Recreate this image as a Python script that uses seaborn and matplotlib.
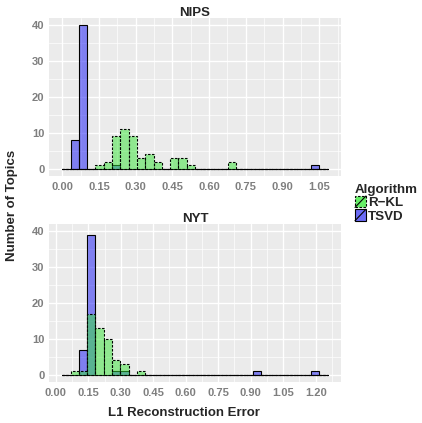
import numpy as np
import pandas as pd
import seaborn as sns
import matplotlib
matplotlib.use("Agg")
import matplotlib.pyplot as plt
from matplotlib.ticker import AutoMinorLocator, FormatStrFormatter
from matplotlib.patches import Rectangle, Patch
from matplotlib.lines import Line2D
from matplotlib.legend_handler import HandlerPatch

# Histogram values (bin centre, count)
nips_tsvd_err = [0.051, 0.085, 0.220, 1.034]
nips_tsvd_n = [8, 40, 1, 1]
nips_rkl_err = [0.153, 0.186, 0.220, 0.254, 0.288, 0.322, 0.356, 0.390, 0.458, 0.492, 0.525, 0.695]
nips_rkl_n = [1, 2, 9, 11, 9, 3, 4, 2, 3, 3, 1, 2]

nyt_tsvd_err = [0.126, 0.164, 0.279, 0.317, 0.930, 1.198]
nyt_tsvd_n = [7, 39, 1, 1, 1, 1]
nyt_rkl_err = [0.088, 0.126, 0.164, 0.202, 0.241, 0.279, 0.317, 0.394]
nyt_rkl_n = [1, 1, 17, 13, 10, 4, 3, 1]

# bin start, bin width, number of bins per panel
nips_bins = (0.0, 0.0339, 32)
nyt_bins = (0.030, 0.0383, 32)
nips_ticks = [0.00, 0.15, 0.30, 0.45, 0.60, 0.75, 0.90, 1.05]
nyt_ticks = [0.00, 0.15, 0.30, 0.45, 0.60, 0.75, 0.90, 1.05, 1.20]
y_ticks = [0, 10, 20, 30, 40]

algorithms = ["TSVD", "R\u2212KL"]
fills = {"TSVD": "#1515F5", "R\u2212KL": "#35E535"}
styles = {"TSVD": "solid", "R\u2212KL": (0, (2.2, 1.4))}

frames = []
for corpus, a, b, c, d in [("NIPS", nips_tsvd_err, nips_tsvd_n, nips_rkl_err, nips_rkl_n),
                           ("NYT", nyt_tsvd_err, nyt_tsvd_n, nyt_rkl_err, nyt_rkl_n)]:
    frames.append(pd.DataFrame({"err": a, "n": b, "Algorithm": "TSVD", "Corpus": corpus}))
    frames.append(pd.DataFrame({"err": c, "n": d, "Algorithm": "R\u2212KL", "Corpus": corpus}))
df = pd.concat(frames, ignore_index=True)

sns.set_style("darkgrid", {"axes.facecolor": "#EBEBEB", "grid.color": "white"})
plt.rcParams["font.family"] = ["Liberation Sans", "DejaVu Sans"]

W, H = 422, 423
fig = plt.figure(figsize=(W / 100, H / 100), dpi=100)
fig.patch.set_facecolor("white")

panels = [("NIPS", nips_bins, nips_ticks, 18, 176),
          ("NYT", nyt_bins, nyt_ticks, 224, 382)]
left, right = 49, 341

for corpus, (start, width, nb), ticks, top, bottom in panels:
    ax = fig.add_axes([left / W, 1 - bottom / H, (right - left) / W, (bottom - top) / H])
    lo, hi = start, start + width * nb
    for alg in algorithms:
        sub = df[(df.Corpus == corpus) & (df.Algorithm == alg)]
        sns.histplot(data=sub, x="err", weights="n", binwidth=width, binrange=(lo, hi), ax=ax,
                     color=fills[alg], alpha=0.5, edgecolor="black",
                     linewidth=0.8, linestyle=styles[alg])
    span = hi - lo
    ax.set_xlim(lo - 0.05 * span, hi + 0.05 * span)
    ax.set_ylim(-2, 42)
    ax.set_xticks(ticks)
    ax.set_yticks(y_ticks)
    ax.xaxis.set_major_formatter(FormatStrFormatter("%.2f"))
    ax.xaxis.set_minor_locator(AutoMinorLocator(2))
    ax.yaxis.set_minor_locator(AutoMinorLocator(2))
    ax.grid(which="major", color="white", linewidth=1.0)
    ax.grid(which="minor", color="white", linewidth=0.5)
    ax.set_axisbelow(True)
    for s in ax.spines.values():
        s.set_visible(False)
    ax.tick_params(which="major", length=1.8, width=0.6, color="#555555",
                   labelsize=8, labelcolor="#7F7F7F")
    ax.tick_params(axis="x", pad=2.2)
    ax.tick_params(axis="y", pad=1.6)
    ax.tick_params(which="minor", length=0)
    for lab in ax.get_xticklabels() + ax.get_yticklabels():
        lab.set_fontweight("bold")
    ax.set_xlabel("")
    ax.set_ylabel("")
    ax.set_title(corpus, fontsize=9.5, fontweight="bold", pad=1.5)

fig.text(12 / W, 1 - 205 / H, "Number of Topics", rotation=90, ha="center", va="center",
         fontsize=9.5, fontweight="bold")
fig.text(184 / W, 1 - 413 / H, "L1 Reconstruction Error", ha="center",
         va="center", fontsize=9.5, fontweight="bold")


class SlashKey(HandlerPatch):
    def create_artists(self, legend, orig_handle, xdescent, ydescent, width, height, fontsize, trans):
        r = Rectangle((-xdescent, -ydescent), width, height, facecolor=orig_handle.get_facecolor(),
                      edgecolor="black", linestyle=orig_handle.get_linestyle(), linewidth=0.8,
                      transform=trans)
        l = Line2D([-xdescent, -xdescent + width], [-ydescent, -ydescent + height],
                   color="black", linewidth=0.8, transform=trans)
        return [r, l]


handles = [Patch(facecolor="#66EE66", linestyle=styles["R\u2212KL"], label="R\u2212KL"),
           Patch(facecolor="#6B6BF5", linestyle="solid", label="TSVD")]
leg = fig.legend(handles=handles, loc="upper left", bbox_to_anchor=(355 / W, 1 - 184 / H),
                 title="Algorithm", frameon=False, handler_map={Patch: SlashKey()},
                 handlelength=0.82, handleheight=0.94, handletextpad=0.15, labelspacing=0.0,
                 borderpad=0, borderaxespad=0, alignment="left",
                 prop={"size": 9.6, "weight": "bold"},
                 title_fontproperties={"size": 9.6, "weight": "bold"})

fig.savefig("out.png", dpi=100)
